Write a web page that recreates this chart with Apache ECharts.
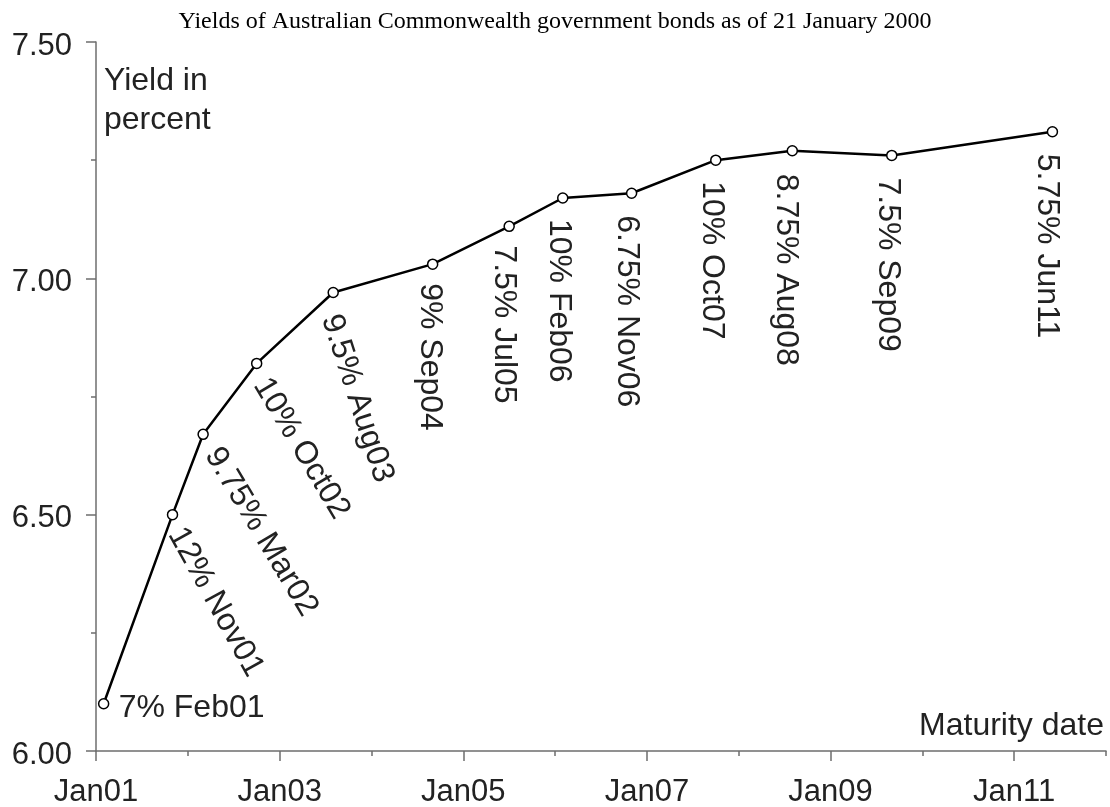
<!DOCTYPE html>
<html>
<head>
<meta charset="utf-8">
<script src="https://cdn.jsdelivr.net/npm/echarts@6/dist/echarts.min.js"></script>
<style>
  html, body { margin: 0; padding: 0; background: #fff; }
  #chart { width: 1110px; height: 807px; }
</style>
</head>
<body>
<div id="chart"></div>
<script>
// ---- data ----
const maturities = ['2001-02','2001-11','2002-03','2002-10','2003-08','2004-09','2005-07','2006-02','2006-11','2007-10','2008-08','2009-09','2011-06'];
const bondNames = ['7% Feb01','12% Nov01','9.75% Mar02','10% Oct02','9.5% Aug03','9% Sep04','7.5% Jul05','10% Feb06','6.75% Nov06','10% Oct07','8.75% Aug08','7.5% Sep09','5.75% Jun11'];
const yields = [6.10, 6.50, 6.67, 6.82, 6.97, 7.03, 7.11, 7.17, 7.18, 7.25, 7.27, 7.26, 7.31];
const xTickLabels = ['Jan01','Jan03','Jan05','Jan07','Jan09','Jan11'];
const yTickLabels = ['6.00','6.50','7.00','7.50'];
const titleText = 'Yields of Australian Commonwealth government bonds as of 21 January 2000';
const yName = 'Yield in\npercent';
const xName = 'Maturity date';

// ---- label styling (angles in degrees, offsets in px from the point) ----
const labelAngle = [0, -61, -59, -59, -72, -90, -90, -90, -90, -90, -90, -90, -90];
const labelOffset = [[15,4],[3,15],[9,16],[4,17],[-3,23],[-3,19],[-5,19],[-4,21],[-5,22],[-4,21],[-6,23],[-4,22],[-6,22]];

const BASE_YEAR = 2001;
function toYears(s) {
  const [y, m] = s.split('-').map(Number);
  return (y - BASE_YEAR) + (m - 1) / 12;
}
const xs = maturities.map(toYears);
const points = xs.map((x, i) => [x, yields[i]]);

const SANS = '"Liberation Sans", Arial, Helvetica, sans-serif';
const AXIS_COLOR = '#6e6e6e';
const TEXT_COLOR = '#222';

const chart = echarts.init(document.getElementById('chart'), null, { renderer: 'canvas' });

const xMajor = xTickLabels.map((_, i) => i * 2);

chart.setOption({
  backgroundColor: '#fff',
  animation: false,
  title: {
    text: titleText,
    left: 'center',
    top: 5,
    textStyle: { fontFamily: '"Liberation Serif", "Times New Roman", serif', fontSize: 24, fontWeight: 'normal', color: '#000' }
  },
  grid: { left: 96, right: 4, top: 42, bottom: 56, containLabel: false, outerBoundsMode: 'none' },
  xAxis: [
    {
      type: 'value', min: 0, max: 11, interval: 1,
      axisLine: { show: true, lineStyle: { color: AXIS_COLOR, width: 1.5 } },
      axisTick: { show: true, inside: false, length: 5, lineStyle: { color: AXIS_COLOR, width: 1.5 } },
      axisLabel: { show: false },
      splitLine: { show: false }
    },
    {
      type: 'value', min: 0, max: 11, interval: 1, position: 'bottom', offset: 0,
      axisLine: { show: false },
      axisTick: { show: true, inside: false, length: 10, customValues: xMajor, lineStyle: { color: AXIS_COLOR, width: 1.5 } },
      axisLabel: {
        show: true, customValues: xMajor, margin: 26,
        fontFamily: SANS, fontSize: 31, color: TEXT_COLOR,
        formatter: v => xTickLabels[Math.round(v / 2)] || ''
      },
      splitLine: { show: false }
    }
  ],
  yAxis: {
    type: 'value', min: 6, max: 7.5, interval: 0.5,
    axisLine: { show: true, lineStyle: { color: AXIS_COLOR, width: 1.5 } },
    axisTick: { show: true, inside: false, length: 10, lineStyle: { color: AXIS_COLOR, width: 1.5 } },
    minorTick: { show: true, splitNumber: 2, length: 5, lineStyle: { color: AXIS_COLOR, width: 1.5 } },
    axisLabel: {
      margin: 24, fontFamily: SANS, fontSize: 31, color: TEXT_COLOR,
      verticalAlign: 'top', lineHeight: 8,
      formatter: v => yTickLabels[Math.round((v - 6) / 0.5)] || ''
    },
    splitLine: { show: false },
    minorSplitLine: { show: false }
  },
  graphic: [
    { type: 'text', x: 104, y: 62, style: { text: yName, fontFamily: SANS, fontSize: 32, lineHeight: 39, fill: TEXT_COLOR, align: 'left', verticalAlign: 'top' } },
    { type: 'text', x: 1104, y: 726, style: { text: xName, fontFamily: SANS, fontSize: 32, fill: TEXT_COLOR, align: 'right', verticalAlign: 'middle' } }
  ],
  series: [
    {
      type: 'line',
      xAxisIndex: 0,
      data: points,
      showAllSymbol: true,
      symbol: 'circle',
      symbolSize: 10,
      itemStyle: { color: '#fff', borderColor: '#000', borderWidth: 1.5 },
      lineStyle: { color: '#000', width: 2.5 },
      label: { show: false },
      z: 3
    },
    {
      type: 'custom',
      xAxisIndex: 0,
      data: points,
      z: 4,
      renderItem: function (params, api) {
        const i = params.dataIndex;
        const p = api.coord([api.value(0), api.value(1)]);
        const off = labelOffset[i];
        return {
          type: 'text',
          x: p[0] + off[0],
          y: p[1] + off[1],
          rotation: labelAngle[i] * Math.PI / 180,
          style: {
            text: bondNames[i],
            fontFamily: SANS,
            fontSize: 32,
            fill: TEXT_COLOR,
            align: 'left',
            verticalAlign: 'middle'
          }
        };
      }
    }
  ]
});
</script>
</body>
</html>
